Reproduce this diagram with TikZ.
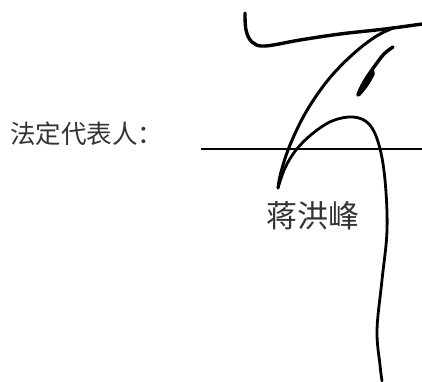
\documentclass[tikz,border=0pt]{standalone}
\usepackage{fontspec}
\newfontfamily\cjk{Noto Sans CJK SC}
\begin{document}
\begin{tikzpicture}[x=1pt,y=-1pt]
  \useasboundingbox (0,0) rectangle (422,381);
  \fill[white] (0,0) rectangle (422,381);

  \node[anchor=west,inner sep=0pt,text=black!80] (label) at (10,134)
    {\cjk\fontsize{25.5}{30}\selectfont 法定代表人：};
  \coordinate (lineA) at (201,149);
  \coordinate (lineB) at (422,149);
  \draw[line width=1.5pt] (lineA) -- (lineB);

  \node[inner sep=0pt,text=black!80] (name) at (313,216)
    {\cjk\fontsize{31}{34}\selectfont 蒋洪峰};

  % signature
  \draw[line width=3.4pt,line cap=round,line join=round] plot[smooth,tension=0.6] coordinates
    {(245,13) (246,30) (252,42) (265,46) (300,40) (340,34) (385,29) (422,24)};
  \draw[line width=3pt,line cap=round,line join=round] plot[smooth,tension=0.6] coordinates
    {(393,28) (375,37) (352,55) (328,80) (306,112) (290,145) (281,172) (278,188)};
  \draw[line width=2.8pt,line cap=round,line join=round] plot[smooth,tension=0.6] coordinates
    {(278,188) (285,168) (296,150) (312,134) (332,121) (353,117) (369,124) (379,145)
     (385,180) (387,230) (382,280) (377,330) (380,365) (382,381)};
  \draw[line width=3.4pt,line cap=round,line join=round] plot[smooth,tension=0.6] coordinates
    {(393,47) (384,54) (374,67) (364,82) (358,95) (366,86) (373,74) (371,73) (364,85)};
\end{tikzpicture}
\end{document}
